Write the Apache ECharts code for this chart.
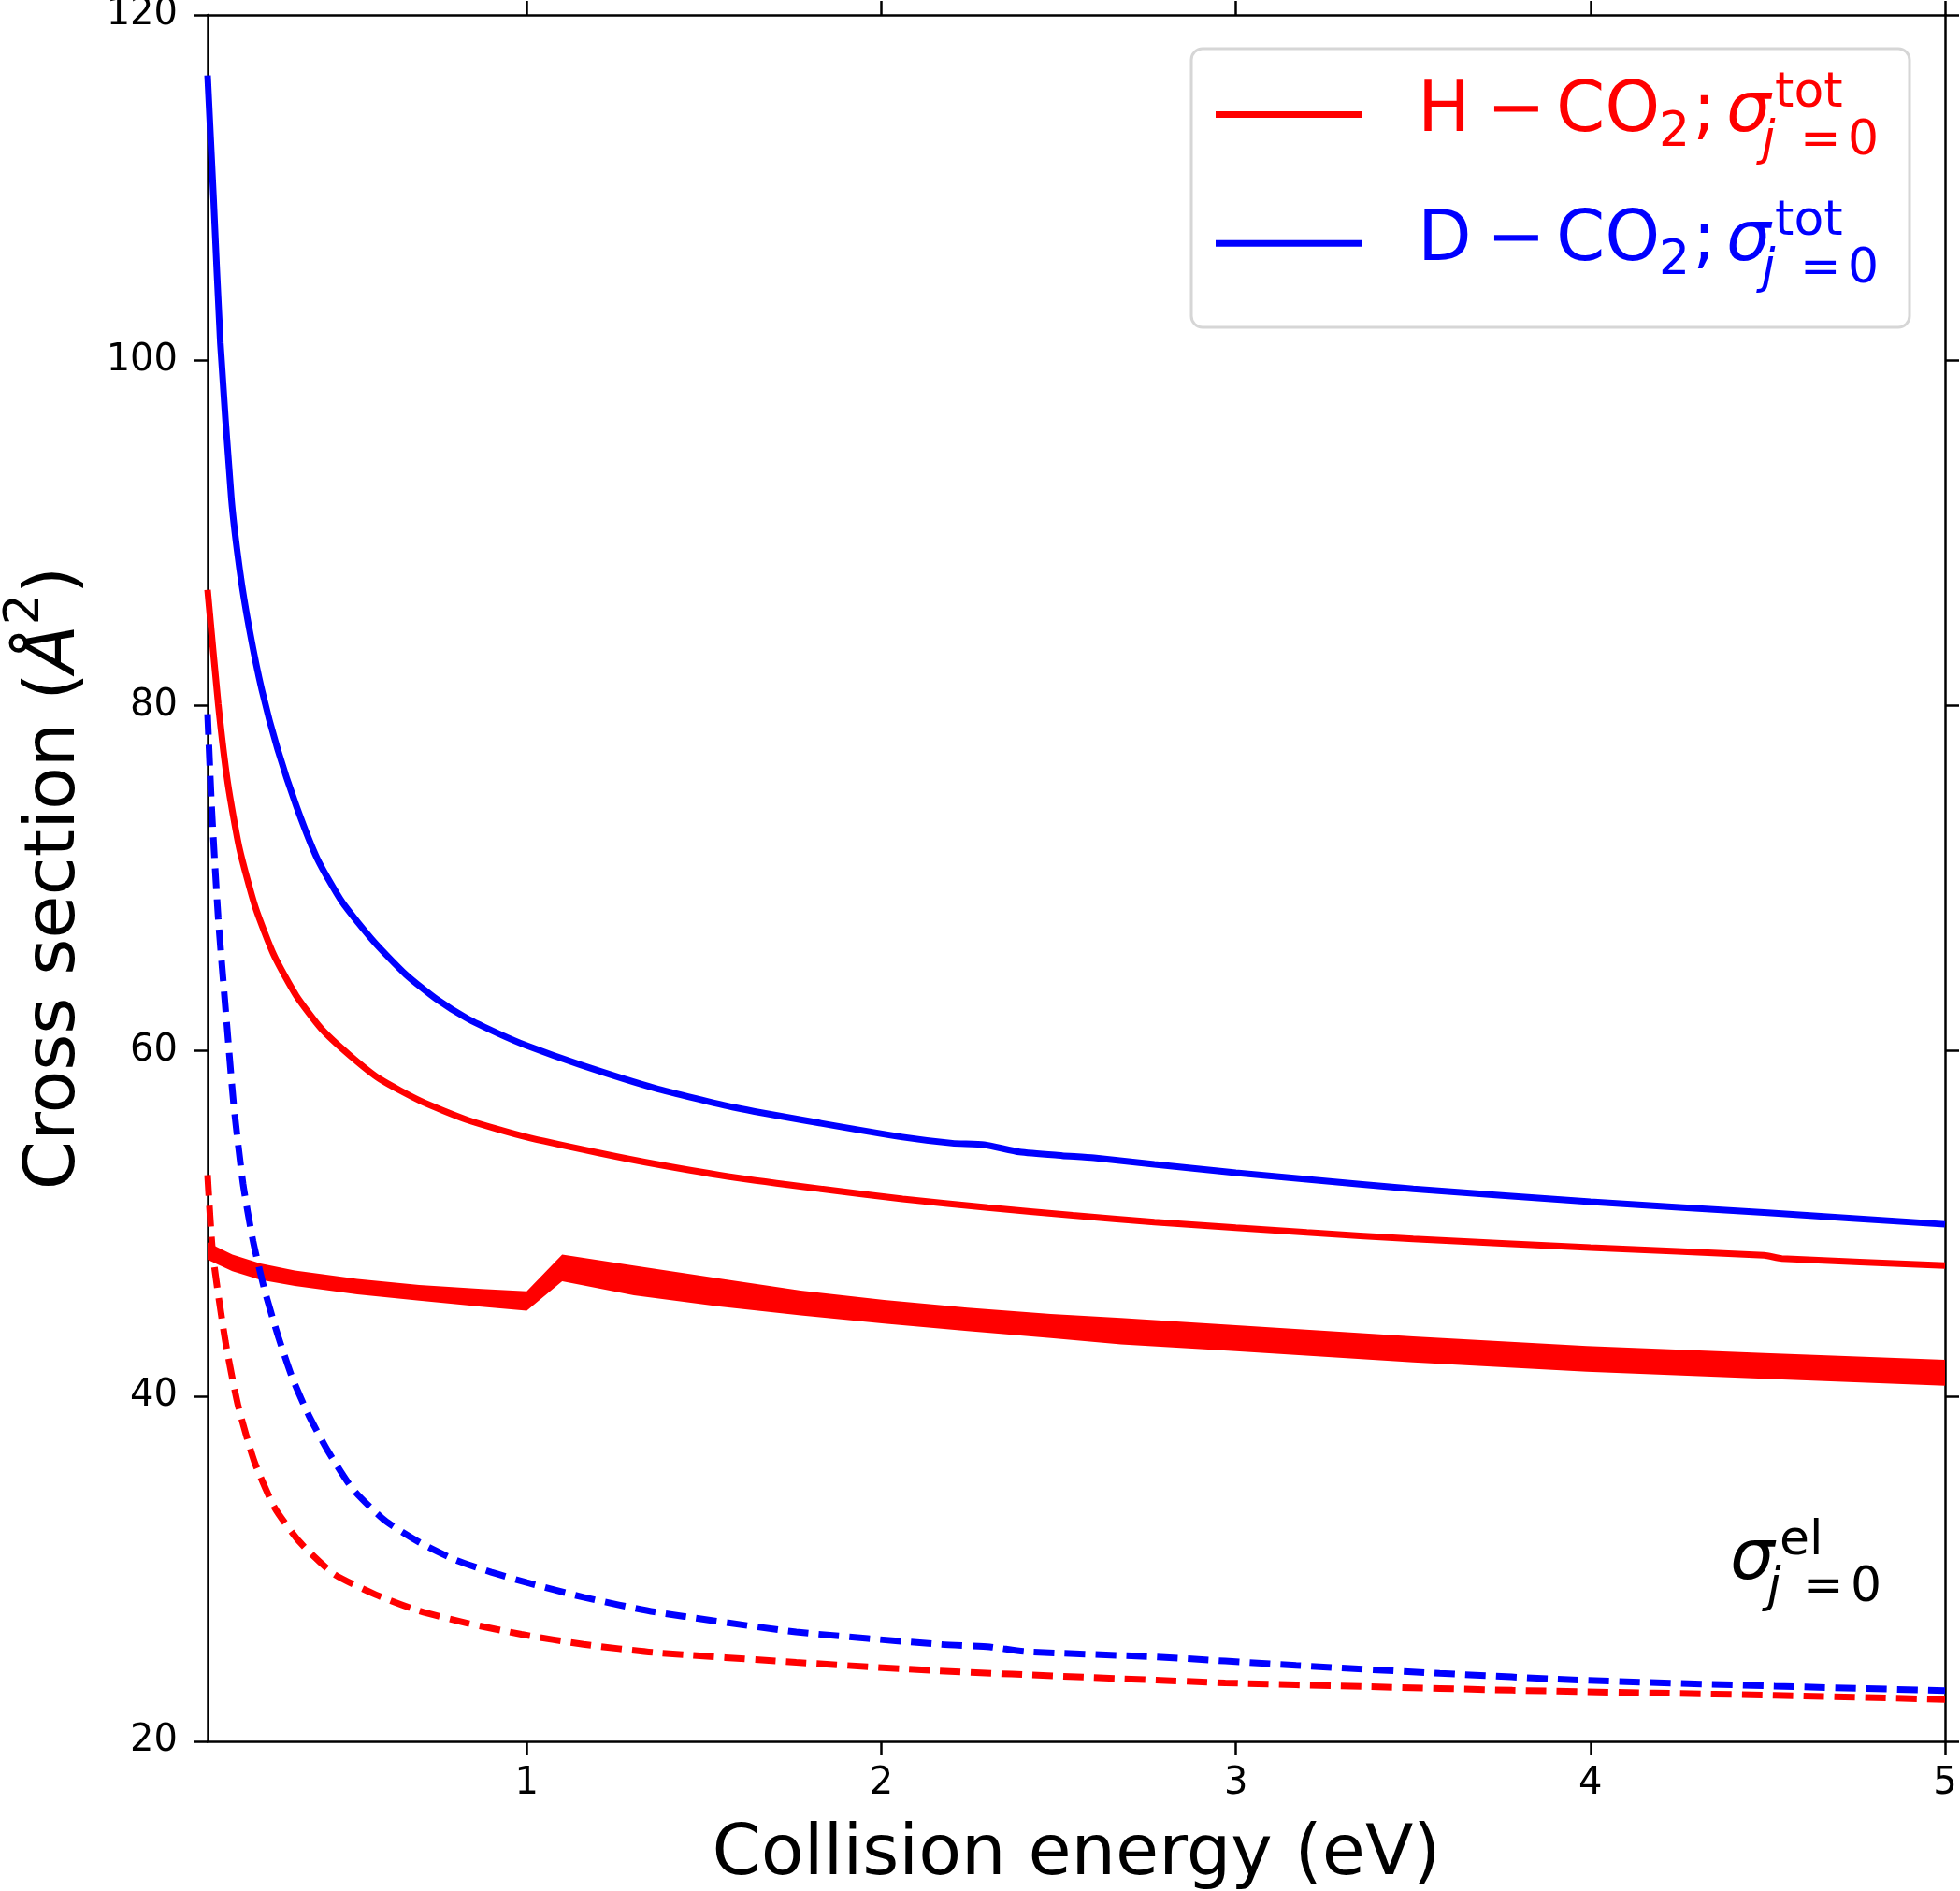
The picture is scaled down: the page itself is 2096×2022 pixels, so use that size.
<!DOCTYPE html>
<html>
<head>
<meta charset="utf-8">
<script src="https://cdn.jsdelivr.net/npm/echarts@6/dist/echarts.min.js"></script>
<style>
  html, body { margin: 0; padding: 0; background: #fff; }
  #chart { width: 2096px; height: 2022px; }
</style>
</head>
<body>
<div id="chart"></div>
<script>
// D - CO2, total cross section (solid blue)
const dTotE = [0.1, 0.117, 0.136, 0.167, 0.191, 0.218, 0.253, 0.297, 0.35, 0.41, 0.48, 0.57, 0.66, 0.745, 0.83, 0.92, 1.0, 1.15, 1.36, 1.59, 1.83, 2.06, 2.2, 2.29, 2.39, 2.51, 2.6, 2.77, 3.0, 3.2, 3.5, 4.0, 4.5, 5.0];
const dTotS = [116.5, 109.3, 101.0, 92.0, 87.8, 84.4, 80.9, 77.5, 74.2, 71.1, 68.6, 66.3, 64.4, 63.0, 61.9, 61.0, 60.3, 59.2, 57.85, 56.7, 55.8, 55.0, 54.65, 54.56, 54.14, 53.93, 53.8, 53.42, 52.94, 52.56, 52.0, 51.26, 50.62, 49.95];

// H - CO2, total cross section (solid red)
const hTotE = [0.1, 0.13, 0.157, 0.19, 0.235, 0.288, 0.35, 0.42, 0.5, 0.587, 0.7, 0.832, 1.0, 1.2, 1.36, 1.59, 1.83, 2.06, 2.3, 2.54, 2.77, 3.0, 3.2, 3.5, 4.0, 4.49, 4.54, 5.0];
const hTotS = [86.7, 80.1, 75.5, 71.7, 68.3, 65.5, 63.2, 61.3, 59.76, 58.35, 57.1, 56.0, 55.0, 54.1, 53.45, 52.65, 52.0, 51.42, 50.92, 50.47, 50.08, 49.75, 49.48, 49.1, 48.6, 48.15, 47.97, 47.56];

// D - CO2, elastic (dashed blue)
const dElE = [0.1, 0.112, 0.13, 0.152, 0.174, 0.2, 0.228, 0.26, 0.3, 0.34, 0.385, 0.44, 0.51, 0.6, 0.7, 0.8, 0.9, 1.0, 1.16, 1.36, 1.76, 2.165, 2.306, 2.407, 2.77, 3.17, 3.575, 3.98, 4.52, 5.0];
const dElS = [79.5, 73.9, 67.7, 62.1, 56.8, 52.3, 49.0, 46.2, 43.4, 41.0, 38.9, 36.8, 34.6, 32.8, 31.5, 30.5, 29.8, 29.2, 28.35, 27.5, 26.34, 25.62, 25.47, 25.2, 24.9, 24.4, 23.94, 23.54, 23.2, 22.94];

// H - CO2, elastic (dashed red)
const hElE = [0.1, 0.115, 0.15, 0.186, 0.232, 0.29, 0.362, 0.456, 0.574, 0.69, 0.832, 0.985, 1.16, 1.36, 1.76, 2.165, 2.57, 2.97, 3.37, 3.78, 4.18, 4.52, 5.0];
const hElS = [52.8, 48.2, 43.2, 39.45, 36.2, 33.5, 31.5, 29.7, 28.5, 27.6, 26.85, 26.2, 25.62, 25.15, 24.58, 24.08, 23.72, 23.39, 23.17, 22.96, 22.8, 22.67, 22.43];

// filled red band (upper / lower edge)
const bandE = [0.1, 0.17, 0.249, 0.346, 0.522, 0.697, 0.873, 1.0, 1.1, 1.302, 1.538, 1.773, 2.008, 2.243, 2.478, 2.676, 3.0, 3.5, 3.99, 4.49, 5.0];
const bandHi = [48.9, 48.19, 47.68, 47.27, 46.79, 46.43, 46.2, 46.07, 48.2, 47.56, 46.83, 46.11, 45.57, 45.12, 44.76, 44.52, 44.1, 43.45, 42.9, 42.5, 42.1];
const bandLo = [47.9, 47.23, 46.74, 46.38, 45.89, 45.53, 45.17, 44.94, 46.65, 45.84, 45.2, 44.67, 44.2, 43.77, 43.36, 43.0, 42.6, 41.95, 41.41, 41.0, 40.6];

const xTicks = [1, 2, 3, 4, 5];

const FONT = 'DejaVu Sans';
const RED = '#ff0000';
const BLUE = '#0000ff';
const LW = 7;

const zip = (xs, ys) => xs.map((x, i) => [x, ys[i]]);

const chart = echarts.init(document.getElementById('chart'), null, { renderer: 'canvas' });

const axisLine = { show: true, lineStyle: { color: '#000', width: 2.5 } };
const axisTick = { show: true, inside: false, length: 15, lineStyle: { color: '#000', width: 2.5 } };

// small helper for the text pieces of legend / annotation
function txt(x, y, text, size, color, italic) {
  return {
    type: 'text', x: x, y: y, z: 101,
    style: {
      text: text, fill: color, fontSize: size, fontFamily: FONT,
      fontStyle: italic ? 'italic' : 'normal',
      align: 'left', verticalAlign: 'middle'
    }
  };
}

function legendRow(dy, color, first) {
  return [
    { type: 'line', z: 101, shape: { x1: 1300, y1: 122.5 + dy, x2: 1457, y2: 122.5 + dy }, style: { stroke: color, lineWidth: LW } },
    txt(1516, 121 + dy, first, 75, color),
    txt(1590, 121 + dy, '\u2212', 75, color),
    txt(1664, 121 + dy, 'CO', 75, color),
    txt(1774, 142 + dy, '2', 52, color),
    txt(1810, 121 + dy, ';', 75, color),
    txt(1846, 121 + dy, '\u03c3', 75, color, true),
    txt(1898, 100 + dy, 'tot', 52, color),
    txt(1884, 151 + dy, 'j', 52, color, true),
    txt(1925, 151 + dy, '=', 52, color),
    txt(1976, 151 + dy, '0', 52, color)
  ];
}

function curve(name, xs, ys, color, dashed, z) {
  return {
    name: name, type: 'line', z: z, showSymbol: false,
    smooth: 0.2,
    data: zip(xs, ys),
    lineStyle: { color: color, width: LW, type: dashed ? [22, 11] : 'solid' }
  };
}

const option = {
  animation: false,
  backgroundColor: '#fff',
  grid: { left: 222, right: 16, top: 16, bottom: 160, containLabel: false, outerBoundsMode: 'none' },
  xAxis: [{
    type: 'value', min: 0.1, max: 5, position: 'bottom',
    name: 'Collision energy (eV)', nameLocation: 'middle', nameGap: 85,
    nameTextStyle: { fontSize: 75, fontFamily: FONT, color: '#000' },
    axisLine: axisLine,
    axisTick: Object.assign({ customValues: xTicks }, axisTick),
    axisLabel: { customValues: xTicks, fontSize: 40, fontFamily: FONT, color: '#000', margin: 26 },
    splitLine: { show: false }
  }, {
    type: 'value', min: 0.1, max: 5, position: 'top',
    axisLine: axisLine,
    axisTick: Object.assign({ customValues: xTicks }, axisTick),
    axisLabel: { show: false },
    splitLine: { show: false }
  }],
  yAxis: [{
    type: 'value', min: 20, max: 120, interval: 20, position: 'left',
    name: '{n|Cross section (}{it|\u00c5}{sup|2}{n|)}', nameLocation: 'middle', nameGap: 104, nameRotate: 90,
    nameTextStyle: {
      fontSize: 75, fontFamily: FONT, color: '#000',
      rich: {
        n: { fontSize: 75, fontFamily: FONT, color: '#000' },
        it: { fontSize: 75, fontFamily: FONT, fontStyle: 'italic', color: '#000' },
        sup: { fontSize: 52, fontFamily: FONT, color: '#000', padding: [0, 0, 65, 0] }
      }
    },
    axisLine: axisLine,
    axisTick: axisTick,
    axisLabel: { fontSize: 40, fontFamily: FONT, color: '#000', margin: 32 },
    splitLine: { show: false }
  }, {
    type: 'value', min: 20, max: 120, interval: 20, position: 'right',
    axisLine: axisLine,
    axisTick: axisTick,
    axisLabel: { show: false },
    splitLine: { show: false }
  }],
  series: [
    {
      name: 'band', type: 'custom', z: 1,
      data: bandE.map((e, i) => [e, bandLo[i], bandHi[i]]),
      encode: { x: 0, y: [1, 2] },
      renderItem: function (params, api) {
        if (params.dataIndex !== 0) return null;
        const pts = [];
        for (let i = 0; i < bandE.length; i++) pts.push(api.coord([bandE[i], bandHi[i]]));
        for (let i = bandE.length - 1; i >= 0; i--) pts.push(api.coord([bandE[i], bandLo[i]]));
        return { type: 'polygon', shape: { points: pts }, style: { fill: RED, stroke: null } };
      }
    },
    curve('H - CO2 tot', hTotE, hTotS, RED, false, 3),
    curve('D - CO2 tot', dTotE, dTotS, BLUE, false, 3),
    curve('H - CO2 el', hElE, hElS, RED, true, 3),
    curve('D - CO2 el', dElE, dElS, BLUE, true, 4)
  ],
  graphic: [
    {
      type: 'rect', z: 100,
      shape: { x: 1274, y: 52, width: 768, height: 298, r: 12 },
      style: { fill: '#ffffff', stroke: '#d6d6d6', lineWidth: 3 }
    }
  ]
    .concat(legendRow(0, RED, 'H'))
    .concat(legendRow(137.7, BLUE, 'D'))
    .concat([
      txt(1850, 1669, '\u03c3', 75, '#000', true),
      txt(1903, 1648, 'el', 52, '#000'),
      txt(1890, 1698, 'j', 52, '#000', true),
      txt(1928, 1698, '=', 52, '#000'),
      txt(1979, 1698, '0', 52, '#000')
    ])
};

chart.setOption(option);
</script>
</body>
</html>
